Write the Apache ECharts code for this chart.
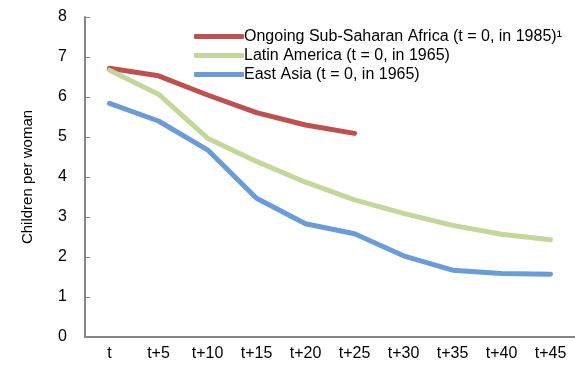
<!DOCTYPE html>
<html>
<head>
<meta charset="utf-8">
<script src="https://cdn.jsdelivr.net/npm/echarts@6/dist/echarts.min.js"></script>
<style>
  html, body { margin: 0; padding: 0; background: #fff; }
  #chart { width: 575px; height: 368px; }
</style>
</head>
<body>
<div id="chart"></div>
<script>
// Fertility transitions: children per woman, years after start of decline
const periods = ['t', 't+5', 't+10', 't+15', 't+20', 't+25', 't+30', 't+35', 't+40', 't+45'];
const seriesNames = [
  'Ongoing Sub-Saharan Africa (t = 0, in 1985)\u00B9',
  'Latin America (t = 0, in 1965)',
  'East Asia (t = 0, in 1965)'
];
const subSaharanAfrica = [6.72, 6.53, 6.05, 5.61, 5.30, 5.09];
const latinAmerica = [6.67, 6.07, 4.97, 4.39, 3.87, 3.43, 3.09, 2.79, 2.57, 2.43];
const eastAsia = [5.84, 5.40, 4.68, 3.47, 2.83, 2.58, 2.03, 1.67, 1.59, 1.57];
const yTicks = [0, 1, 2, 3, 4, 5, 6, 7, 8];

const colors = ['#C0504D', '#C4D79B', '#6A9CDA'];
const font = 'Liberation Sans Narrow, Arial Narrow, Liberation Sans, Arial, sans-serif';
const axisColor = '#868686';

const chart = echarts.init(document.getElementById('chart'), null, { renderer: 'canvas' });

function lineSeries(name, data, color) {
  return {
    name: name,
    type: 'line',
    data: data,
    symbol: 'none',
    showSymbol: false,
    smooth: false,
    lineStyle: { color: color, width: 5, cap: 'round', join: 'round' },
    itemStyle: { color: color },
    z: 3
  };
}

chart.setOption({
  animation: false,
  backgroundColor: '#ffffff',
  textStyle: { fontFamily: font },
  grid: { left: 85, top: 17, width: 493, bottom: 31, containLabel: false },
  legend: {
    orient: 'vertical',
    left: 189,
    top: 23,
    itemGap: 2,
    itemWidth: 50,
    itemHeight: 5,
    icon: 'roundRect',
    textStyle: { fontFamily: font, fontSize: 16, color: '#000', lineHeight: 17, padding: [0, 0, 0, -5] },
    data: seriesNames
  },
  xAxis: {
    type: 'category',
    data: periods,
    boundaryGap: true,
    axisLine: { lineStyle: { color: axisColor, width: 2 } },
    axisTick: { inside: true, length: 5, lineStyle: { color: axisColor, width: 1 } },
    axisLabel: { color: '#000', fontSize: 16, fontFamily: font, margin: 9 }
  },
  yAxis: {
    type: 'value',
    min: yTicks[0],
    max: yTicks[yTicks.length - 1],
    interval: 1,
    name: 'Children per woman',
    nameLocation: 'middle',
    nameGap: 50,
    nameRotate: 90,
    nameTextStyle: { color: '#000', fontSize: 15, fontFamily: font },
    splitLine: { show: false },
    axisLine: { show: true, lineStyle: { color: axisColor, width: 2 } },
    axisTick: { show: true, inside: true, length: 5, lineStyle: { color: axisColor, width: 1 } },
    axisLabel: { color: '#000', fontSize: 16, fontFamily: font, margin: 18 }
  },
  series: [
    lineSeries(seriesNames[0], subSaharanAfrica, colors[0]),
    lineSeries(seriesNames[1], latinAmerica, colors[1]),
    lineSeries(seriesNames[2], eastAsia, colors[2])
  ]
});
</script>
</body>
</html>
